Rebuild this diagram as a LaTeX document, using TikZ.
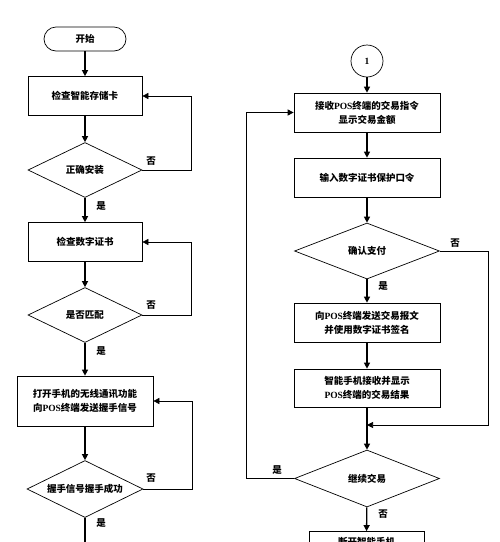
\documentclass[tikz,border=0pt]{standalone}
\usepackage{fontspec}
\usetikzlibrary{shapes.geometric,arrows.meta}
\newfontfamily\cjk{Noto Sans CJK SC}
\newfontfamily\lat{Liberation Serif}
\newcommand{\PS}{{\lat\bfseries POS}}
\begin{document}
\begin{tikzpicture}[x=1pt,y=-1pt,
  every node/.style={font=\cjk\bfseries\fontsize{9.5}{14}\selectfont, text=black},
  boxnode/.style={draw, line width=0.7pt, rectangle, inner sep=0pt, align=center, minimum height=39pt},
  term/.style={draw, line width=0.7pt, rectangle, rounded corners=12pt, minimum width=82pt, minimum height=24pt, inner sep=0pt},
  dia/.style={draw, line width=0.7pt, diamond, aspect=2, inner sep=0pt},
  circ/.style={draw, line width=0.7pt, circle, minimum size=32pt, inner sep=0pt},
  flow/.style={line width=1.3pt, -{Triangle[length=6pt,width=6pt]}},
  back/.style={line width=0.7pt, -{Triangle[length=6pt,width=6pt]}},
  lbl/.style={font=\cjk\bfseries\fontsize{9.5}{11}\selectfont, inner sep=0pt}
]
\useasboundingbox (0,0) rectangle (500,542);
\clip (0,0) rectangle (500,542);
% left column
\node[term] (start) at (85,39) {开始};
\node[boxnode, minimum width=114pt] (b1) at (85,96) {检查智能存储卡};
\node[dia, minimum width=114pt, minimum height=55pt] (d1) at (85,170) {正确安装};
\node[boxnode, minimum width=114pt] (b2) at (85,242) {检查数字证书};
\node[dia, minimum width=114pt, minimum height=55pt] (d2) at (85,315) {是否匹配};
\node[boxnode, minimum width=136pt, minimum height=50pt] (b3) at (85,401) {打开手机的无线通讯功能\\向\PS 终端发送握手信号};
\node[dia, minimum width=116pt, minimum height=57pt] (d3) at (85,489) {握手信号握手成功};
\coordinate (lend) at (85,560);
\draw[flow] (start) -- (b1);
\draw[flow] (b1) -- (d1);
\draw[flow] (d1) -- (b2);
\draw[flow] (b2) -- (d2);
\draw[flow] (d2) -- (b3);
\draw[flow] (b3) -- (d3);
\draw[line width=1.3pt] (d3.south) -- (lend);
\draw[back] (d1.east) -- (191,170) |- (b1.east);
\draw[back] (d2.east) -- (191,315) |- (b2.east);
\draw[back] (d3.east) -- (192,489) |- (b3.east);
\node[lbl] (n1) at (151,161) {否};
\node[lbl] (y1) at (101,206) {是};
\node[lbl] (n2) at (151,305) {否};
\node[lbl] (y2) at (101,351) {是};
\node[lbl] (n3) at (151,478) {否};
\node[lbl] (y3) at (101,523) {是};
% right column
\node[circ, font=\lat\bfseries\fontsize{9.5}{11}\selectfont] (c1) at (367,61) {1};
\node[boxnode, minimum width=146pt] (r1) at (367,112.5) {接收\PS 终端的交易指令\\显示交易金额};
\node[boxnode, minimum width=146pt] (r2) at (367,177.5) {输入数字证书保护口令};
\node[dia, minimum width=145pt, minimum height=56pt] (rd1) at (367,251) {确认支付};
\node[boxnode, minimum width=146pt] (r3) at (367,322.5) {向\PS 终端发送交易报文\\并使用数字证书签名};
\node[boxnode, minimum width=146pt, minimum height=38pt] (r4) at (367,388) {智能手机接收并显示\\\PS 终端的交易结果};
\coordinate (junc) at (367,425);
\node[dia, minimum width=145pt, minimum height=57pt] (rd2) at (367,478.5) {继续交易};
\node[boxnode, minimum width=115pt, minimum height=20pt] (r5) at (366.5,541.5) {断开智能手机};
\draw[flow] (c1) -- (r1);
\draw[flow] (r1) -- (r2);
\draw[flow] (r2) -- (rd1);
\draw[flow] (rd1) -- (r3);
\draw[flow] (r3) -- (r4);
\draw[flow] (r4) -- (rd2);
\draw[flow] (rd2) -- (r5);
\draw[back] (rd1.east) -- (488,251) |- (junc);
\draw[back] (rd2.west) -- (246,478.5) |- (r1.west);
\node[lbl] (n4) at (455,243) {否};
\node[lbl] (y4) at (383,286) {是};
\node[lbl] (y5) at (277,470) {是};
\node[lbl] (n5) at (383,514) {否};
\end{tikzpicture}
\end{document}
